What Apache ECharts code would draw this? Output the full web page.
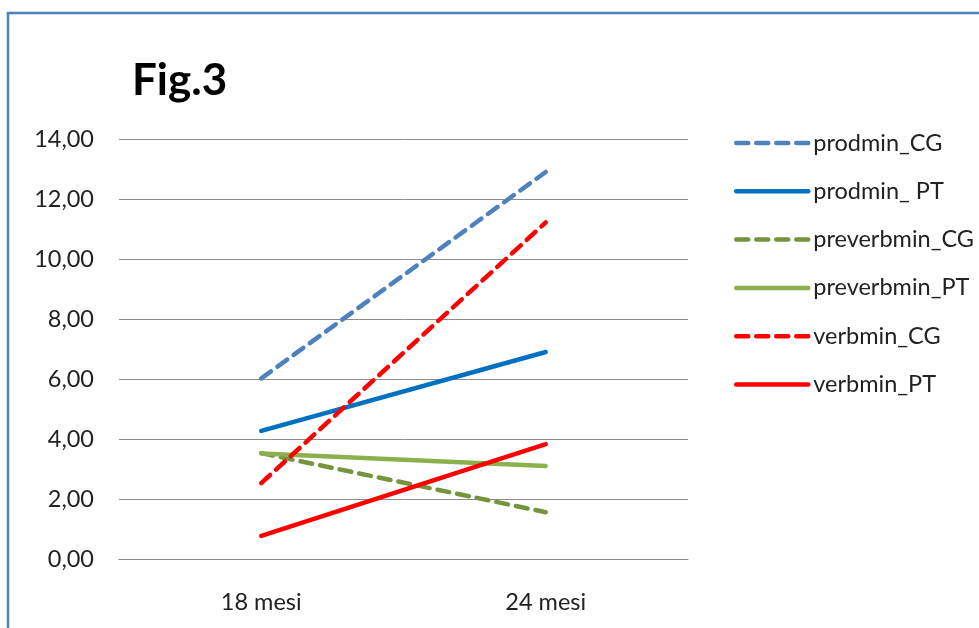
<!DOCTYPE html>
<html>
<head>
<meta charset="utf-8">
<script src="https://cdn.jsdelivr.net/npm/echarts@6/dist/echarts.min.js"></script>
<style>
  html, body { margin: 0; padding: 0; background: #fff; }
  #chart { width: 979px; height: 628px; }
</style>
</head>
<body>
<div id="chart"></div>
<script>
// Time points
const categories = ['18 mesi', '24 mesi'];

// Mean values per group at each time point
const prodmin_CG = [6.02, 12.9];
const prodmin_PT = [4.27, 6.9];
const preverbmin_CG = [3.53, 1.56];
const preverbmin_PT = [3.52, 3.1];
const verbmin_CG = [2.53, 11.22];
const verbmin_PT = [0.77, 3.83];

const seriesNames = ['prodmin_CG', 'prodmin_ PT', 'preverbmin_CG', 'preverbmin_PT', 'verbmin_CG', 'verbmin_PT'];
const seriesData = [prodmin_CG, prodmin_PT, preverbmin_CG, preverbmin_PT, verbmin_CG, verbmin_PT];
const seriesColors = ['#4f81bd', '#0070c0', '#77933c', '#8db04e', '#ff0000', '#ff0000'];
const seriesDashed = [true, false, true, false, true, false];

const FONT = 'Lato, "Liberation Sans", sans-serif';
const LABEL_SIZE = 23.5;

const chart = echarts.init(document.getElementById('chart'), null, { renderer: 'canvas' });

chart.setOption({
  backgroundColor: '#ffffff',
  animation: false,
  title: {
    text: 'Fig.3',
    left: 127,
    top: 54,
    textStyle: { fontFamily: FONT, fontWeight: 'bold', fontSize: 44, color: '#000' }
  },
  graphic: [{
    type: 'rect',
    shape: { x: 8, y: 13, width: 1000, height: 700 },
    style: { fill: 'none', stroke: '#4f81bd', lineWidth: 2.5 },
    silent: true
  }],
  legend: {
    orient: 'vertical',
    left: 729,
    top: 126,
    itemWidth: 72,
    itemHeight: 14,
    itemGap: 24.3,
    itemStyle: { opacity: 0 },
    lineStyle: { width: 4.5 },
    textStyle: { fontFamily: FONT, fontSize: LABEL_SIZE, color: '#222' },
    data: seriesNames
  },
  grid: { left: 119, right: 291, top: 139, bottom: 69 },
  xAxis: {
    type: 'category',
    data: categories,
    boundaryGap: true,
    axisLine: { lineStyle: { color: '#8c8c8c', width: 1 } },
    axisTick: { show: false },
    axisLabel: { margin: 31, fontFamily: FONT, fontSize: LABEL_SIZE, color: '#222' }
  },
  yAxis: {
    type: 'value',
    min: 0,
    max: 14,
    interval: 2,
    axisLine: { show: false },
    axisTick: { show: false },
    splitLine: { lineStyle: { color: '#8c8c8c', width: 1 } },
    axisLabel: {
      margin: 25,
      fontFamily: FONT,
      fontSize: LABEL_SIZE,
      color: '#222',
      formatter: v => v.toFixed(2).replace('.', ',')
    }
  },
  series: seriesNames.map((name, i) => ({
    name,
    type: 'line',
    data: seriesData[i],
    symbol: 'none',
    color: seriesColors[i],
    lineStyle: {
      color: seriesColors[i],
      width: 4.5,
      type: seriesDashed[i] ? [12, 8] : 'solid',
      cap: 'round'
    }
  }))
});
</script>
</body>
</html>
